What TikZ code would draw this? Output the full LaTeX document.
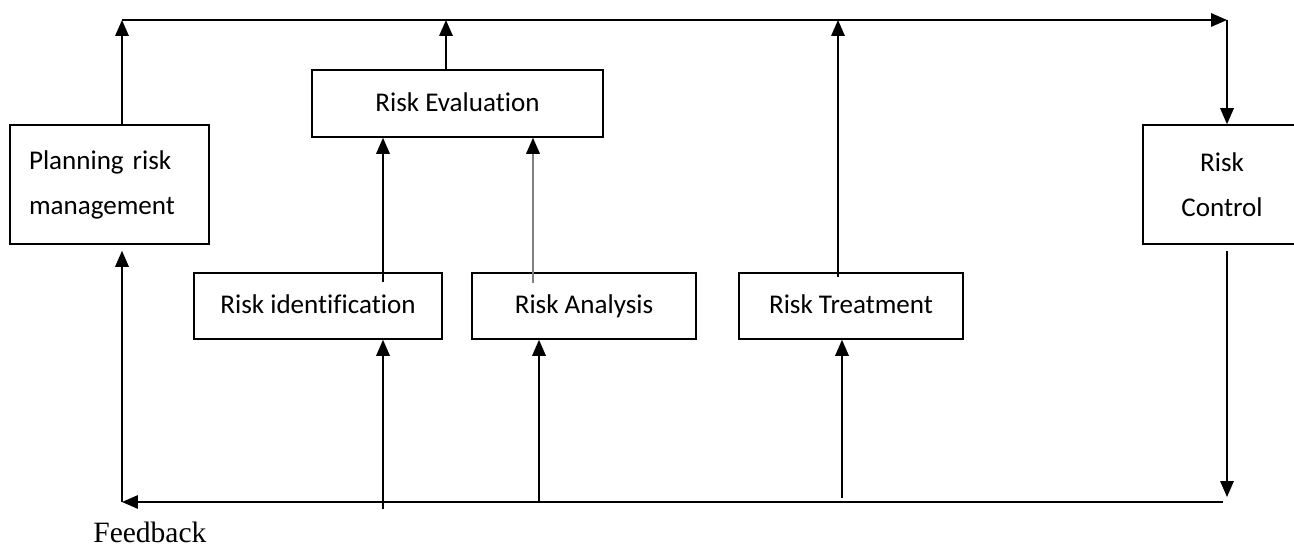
\documentclass[tikz,border=0pt]{standalone}
\usepackage{fontspec}
\setmainfont{Carlito}[Ligatures=NoCommon]
\newfontfamily\fbfont{Liberation Serif}
\usepackage{tikz}
\usetikzlibrary{positioning,arrows.meta,calc}

\begin{document}
\begin{tikzpicture}[x=0.02cm, y=-0.02cm,
    box/.style={draw, line width=0.9pt, rectangle, minimum height=1.32cm,
      font=\fontsize{15.4}{25.6}\selectfont},
    onebox/.style={box, text height=0.43cm, text depth=0.12cm},
    flow/.style={line width=0.9pt, -{Triangle[length=0.32cm, width=0.27cm]}}]
    \useasboundingbox (0,0) rectangle (1294,546);
    % boxes
    \node[box, minimum height=2.38cm, text width=3.22cm, inner xsep=0.38cm, align=left] (plan) at (109.5,184.5) {Planning risk\\management};
    \node[onebox, minimum width=5.82cm, minimum height=1.34cm] (eval) at (457.5,103.5) {Risk Evaluation};
    \node[onebox, minimum width=4.96cm] (ident) at (318,306) {Risk identification};
    \node[onebox, minimum width=4.48cm] (anal) at (584,306) {Risk Analysis};
    \node[onebox, minimum width=4.48cm] (treat) at (851,306) {Risk Treatment};
    \node[box, minimum width=3.16cm, minimum height=2.38cm, align=center] (ctrl) at (1222,184.5) {Risk\\Control};
    \node[anchor=base west, inner sep=0pt, font=\fbfont\fontsize{16.8}{20}\selectfont] (fb) at (93,542) {Feedback};
    % top line
    \coordinate (t1) at (122,20);
    \coordinate (t2) at (446,20);
    \coordinate (t3) at (838,20);
    \coordinate (t4) at (1227,20);
    % bottom line
    \coordinate (b1) at (122,502);
    \coordinate (b2) at (383,509);
    \coordinate (b3) at (539,503);
    \coordinate (b4) at (842,498);
    \coordinate (b5) at (1227,497);
    \coordinate (b6) at (1223,502);
    \coordinate (a1) at (533,283);
    \draw[flow] (plan.north -| t1) -- (t1);
    \draw[flow] (eval.north -| t2) -- (t2);
    \draw[flow, shorten <=-0.1cm] (treat.north -| t3) -- (t3);
    \draw[flow] (t1) -- (t4);
    \draw[flow] (t4) -- (ctrl.north -| t4);
    \draw[flow, shorten <=0.12cm] (ctrl.south -| b5) -- (b5);
    \draw[flow] (b6) -- (b1);
    \draw[flow, shorten >=0.12cm] (b1) -- (plan.south -| b1);
    \draw[flow] (b2) -- (ident.south -| b2);
    \draw[flow] (b3) -- (anal.south -| b3);
    \draw[flow] (b4) -- (treat.south -| b4);
    \draw[flow, shorten <=-0.2cm] (ident.north -| b2) -- (eval.south -| b2);
    \draw[flow, gray, -{Triangle[length=0.32cm, width=0.27cm, black]}] (a1) -- (eval.south -| a1);
\end{tikzpicture}
\end{document}
